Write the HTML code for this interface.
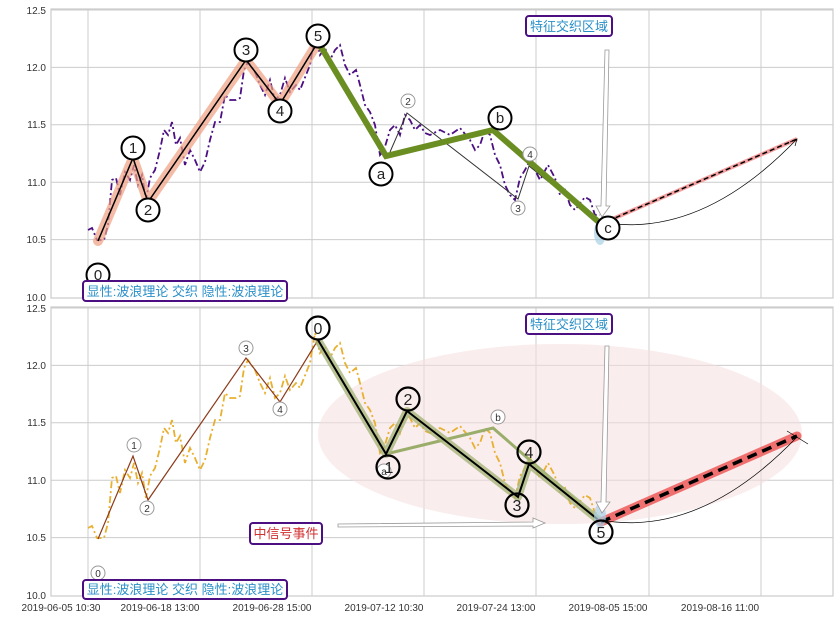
<!DOCTYPE html>
<html><head><meta charset="utf-8"><style>
html,body{margin:0;padding:0;background:#fff;}
svg{display:block;font-family:"Liberation Sans","Noto Sans CJK SC",sans-serif;}
</style></head><body>
<svg width="839" height="619" viewBox="0 0 839 619" xmlns="http://www.w3.org/2000/svg">
<defs>
<g id="grid">
  <rect x="51" y="9" width="782" height="289" fill="#fff" stroke="#ccc" stroke-width="1.2"/>
  <g stroke="#ccc" stroke-width="1">
    <line x1="88" y1="9" x2="88" y2="298"/><line x1="200" y1="9" x2="200" y2="298"/>
    <line x1="312" y1="9" x2="312" y2="298"/><line x1="424" y1="9" x2="424" y2="298"/>
    <line x1="536" y1="9" x2="536" y2="298"/><line x1="649" y1="9" x2="649" y2="298"/>
    <line x1="761" y1="9" x2="761" y2="298"/>
    <line x1="51" y1="10" x2="833" y2="10"/><line x1="51" y1="67.4" x2="833" y2="67.4"/>
    <line x1="51" y1="124.8" x2="833" y2="124.8"/><line x1="51" y1="182.2" x2="833" y2="182.2"/>
    <line x1="51" y1="239.6" x2="833" y2="239.6"/>
  </g>
  <g font-size="10" fill="#333" text-anchor="end">
    <text x="46" y="14">12.5</text><text x="46" y="71">12.0</text><text x="46" y="128">11.5</text>
    <text x="46" y="186">11.0</text><text x="46" y="243">10.5</text><text x="46" y="301">10.0</text>
  </g>
</g>
<polyline id="price" fill="none" stroke-width="1.8" stroke-dasharray="7,3,2,3" points="88,230 92,228 97,240 104,240 108,225 112,180 116,178 120,195 125,172 130,180 134,165 138,185 142,175 146,200 150,178 155,170 160,150 164,130 168,135 172,122 176,145 180,138 185,165 190,150 195,160 200,172 205,162 210,140 215,122 220,122 225,95 230,100 236,100 240,98 244,70 248,62 255,72 260,85 265,95 270,80 275,100 280,95 285,78 290,92 296,85 300,90 306,75 310,65 315,35 320,55 325,48 330,60 335,50 340,45 345,65 350,75 356,70 360,85 365,105 370,112 375,125 380,155 384,150 390,130 395,125 400,135 405,115 410,120 415,130 420,125 425,133 430,135 440,130 450,135 460,128 470,140 475,150 480,145 485,130 490,135 495,155 500,165 505,185 510,195 515,200 520,178 525,170 530,160 535,170 540,180 548,165 555,178 560,195 565,190 570,205 575,210 585,197 590,200 595,215 600,215"/>
</defs>

<!-- TOP PANEL -->
<use href="#grid"/>
<use href="#price" stroke="#4b0f82"/>
<polyline points="98,241 133,158 148,202 246,60 280,104 318,42" fill="none" stroke="#f0a080" stroke-opacity="0.7" stroke-width="10" stroke-linejoin="round" stroke-linecap="round"/>
<polyline points="98,241 133,158 148,202 246,60 280,104 318,42" fill="none" stroke="#000" stroke-width="1.5"/>
<polyline points="390,152 407,113 518,199 529,166 601,224" fill="none" stroke="#333" stroke-width="1"/>
<polyline points="318,42 386,156 493,130 601,224" fill="none" stroke="#6b8e23" stroke-width="6"/>
<line x1="601" y1="224" x2="797" y2="139" stroke="#f4a0a0" stroke-width="4"/>
<line x1="601" y1="224" x2="797" y2="139" stroke="#000" stroke-width="1.5" stroke-dasharray="5,3"/>
<path d="M600,222 Q700,240 797,139" fill="none" stroke="#000" stroke-width="0.7"/>
<path d="M790,142 L797,139 L795,146" fill="none" stroke="#000" stroke-width="0.7"/>
<ellipse cx="600" cy="233" rx="6" ry="12" fill="#a8d0e6" opacity="0.7"/>
<path d="M605,50 L609,50 L606,206 L610,206 L602,217 L596,206 L601,206 Z" fill="#fff" stroke="#999" stroke-width="0.8"/>
<g fill="#fff" stroke="#000" stroke-width="2">
<circle cx="98" cy="275" r="11.5"/><circle cx="133" cy="148" r="11.5"/><circle cx="148" cy="210" r="11.5"/>
<circle cx="246" cy="50" r="11.5"/><circle cx="280" cy="111" r="11.5"/><circle cx="318" cy="36" r="11.5"/>
<circle cx="381" cy="174" r="11.5"/><circle cx="500" cy="118" r="11.5"/><circle cx="608" cy="228" r="11.5"/>
</g>
<g fill="#fff" stroke="#999" stroke-width="1">
<circle cx="408" cy="101" r="7"/><circle cx="518" cy="208" r="7"/><circle cx="530" cy="154" r="7"/>
</g>
<g font-size="15" fill="#222" text-anchor="middle">
<text x="98" y="280">0</text><text x="133" y="153">1</text><text x="148" y="215">2</text>
<text x="246" y="55">3</text><text x="280" y="116">4</text><text x="318" y="41">5</text>
<text x="381" y="179">a</text><text x="500" y="123">b</text><text x="608" y="233">c</text>
</g>
<g font-size="10" fill="#333" text-anchor="middle">
<text x="408" y="105">2</text><text x="518" y="212">3</text><text x="530" y="158">4</text>
</g>
<rect x="83" y="281" width="204" height="20" rx="3" fill="#fff" stroke="#4b0f82" stroke-width="2"/>
<text x="185" y="296" font-size="13" fill="#2a8fc8" text-anchor="middle">显性:波浪理论 交织 隐性:波浪理论</text>
<rect x="526" y="16" width="86" height="20" rx="3" fill="#fff" stroke="#4b0f82" stroke-width="2"/>
<text x="569" y="31" font-size="13" fill="#2a8fc8" text-anchor="middle">特征交织区域</text>

<!-- BOTTOM PANEL -->
<g transform="translate(0,298)">
<use href="#grid"/>
<ellipse cx="560" cy="136" rx="242" ry="90" fill="#f5dede" opacity="0.55"/>
<use href="#price" stroke="#e8b030"/>
<polyline points="98,241 133,158 148,202 246,60 280,104 318,42" fill="none" stroke="#8b3a1a" stroke-width="1.2"/>
<polyline points="386,156 493,130 601,224" fill="none" stroke="#9aad6a" stroke-width="3"/>
<polyline points="318,42 386,156 407,113 518,199 529,166 601,224" fill="none" stroke="#a7b57a" stroke-opacity="0.8" stroke-width="8" stroke-linejoin="round"/>
<polyline points="318,42 386,156 407,113 518,199 529,166 601,224" fill="none" stroke="#000" stroke-width="2"/>
<line x1="601" y1="224" x2="797" y2="138" stroke="#f07070" stroke-width="9" stroke-linecap="round"/>
<line x1="601" y1="224" x2="797" y2="138" stroke="#000" stroke-width="3.5" stroke-dasharray="10,6"/>
<path d="M600,222 Q700,240 797,139" fill="none" stroke="#000" stroke-width="0.7"/>
<path d="M787,133 L808,146" fill="none" stroke="#000" stroke-width="0.7"/>
<ellipse cx="600" cy="218" rx="6" ry="12" fill="#a8d0e6" opacity="0.7"/>
<path d="M605,48 L609,48 L606,204 L610,204 L602,215 L596,204 L601,204 Z" fill="#fff" stroke="#999" stroke-width="0.8"/>
<path d="M338,226 L533,224 L533,220 L545,225 L533,230 L533,228 L338,229 Z" fill="#fff" stroke="#999" stroke-width="0.8"/>
<g fill="#fff" stroke="#999" stroke-width="1">
<circle cx="98" cy="275" r="7"/><circle cx="134" cy="147" r="7"/><circle cx="147" cy="210" r="7"/>
<circle cx="246" cy="50" r="7"/><circle cx="280" cy="111" r="7"/><circle cx="498" cy="119" r="7"/><circle cx="384" cy="173" r="7"/>
</g>
<g font-size="10" fill="#333" text-anchor="middle">
<text x="98" y="279">0</text><text x="134" y="151">1</text><text x="147" y="214">2</text>
<text x="246" y="54">3</text><text x="280" y="115">4</text><text x="498" y="123">b</text><text x="384" y="177">a</text>
</g>
<g fill="none" stroke="#000" stroke-width="2.2">
<circle cx="318" cy="30" r="11.5"/><circle cx="388" cy="169" r="11.5"/><circle cx="408" cy="101" r="11.5"/>
<circle cx="517" cy="207" r="11.5"/><circle cx="529" cy="154" r="11.5"/><circle cx="601" cy="234" r="11.5"/>
</g>
<g font-size="16" fill="#222" text-anchor="middle">
<text x="318" y="36">0</text><text x="389" y="175">1</text><text x="408" y="107">2</text>
<text x="517" y="213">3</text><text x="529" y="160">4</text><text x="601" y="240">5</text>
</g>
<rect x="83" y="282" width="204" height="19" rx="3" fill="#fff" stroke="#4b0f82" stroke-width="2"/>
<text x="185" y="296" font-size="13" fill="#2a8fc8" text-anchor="middle">显性:波浪理论 交织 隐性:波浪理论</text>
<rect x="526" y="16" width="86" height="20" rx="3" fill="#fff" stroke="#4b0f82" stroke-width="2"/>
<text x="569" y="31" font-size="13" fill="#2a8fc8" text-anchor="middle">特征交织区域</text>
<rect x="250" y="225" width="72" height="21" rx="3" fill="#fff" stroke="#4b0f82" stroke-width="2"/>
<text x="286" y="240" font-size="13" fill="#d03030" text-anchor="middle">中信号事件</text>
</g>
<g font-size="10" fill="#333" text-anchor="middle">
<text x="61" y="611">2019-06-05 10:30</text><text x="160" y="611">2019-06-18 13:00</text>
<text x="272" y="611">2019-06-28 15:00</text><text x="384" y="611">2019-07-12 10:30</text>
<text x="496" y="611">2019-07-24 13:00</text><text x="608" y="611">2019-08-05 15:00</text>
<text x="720" y="611">2019-08-16 11:00</text>
</g>
</svg>
</body></html>
